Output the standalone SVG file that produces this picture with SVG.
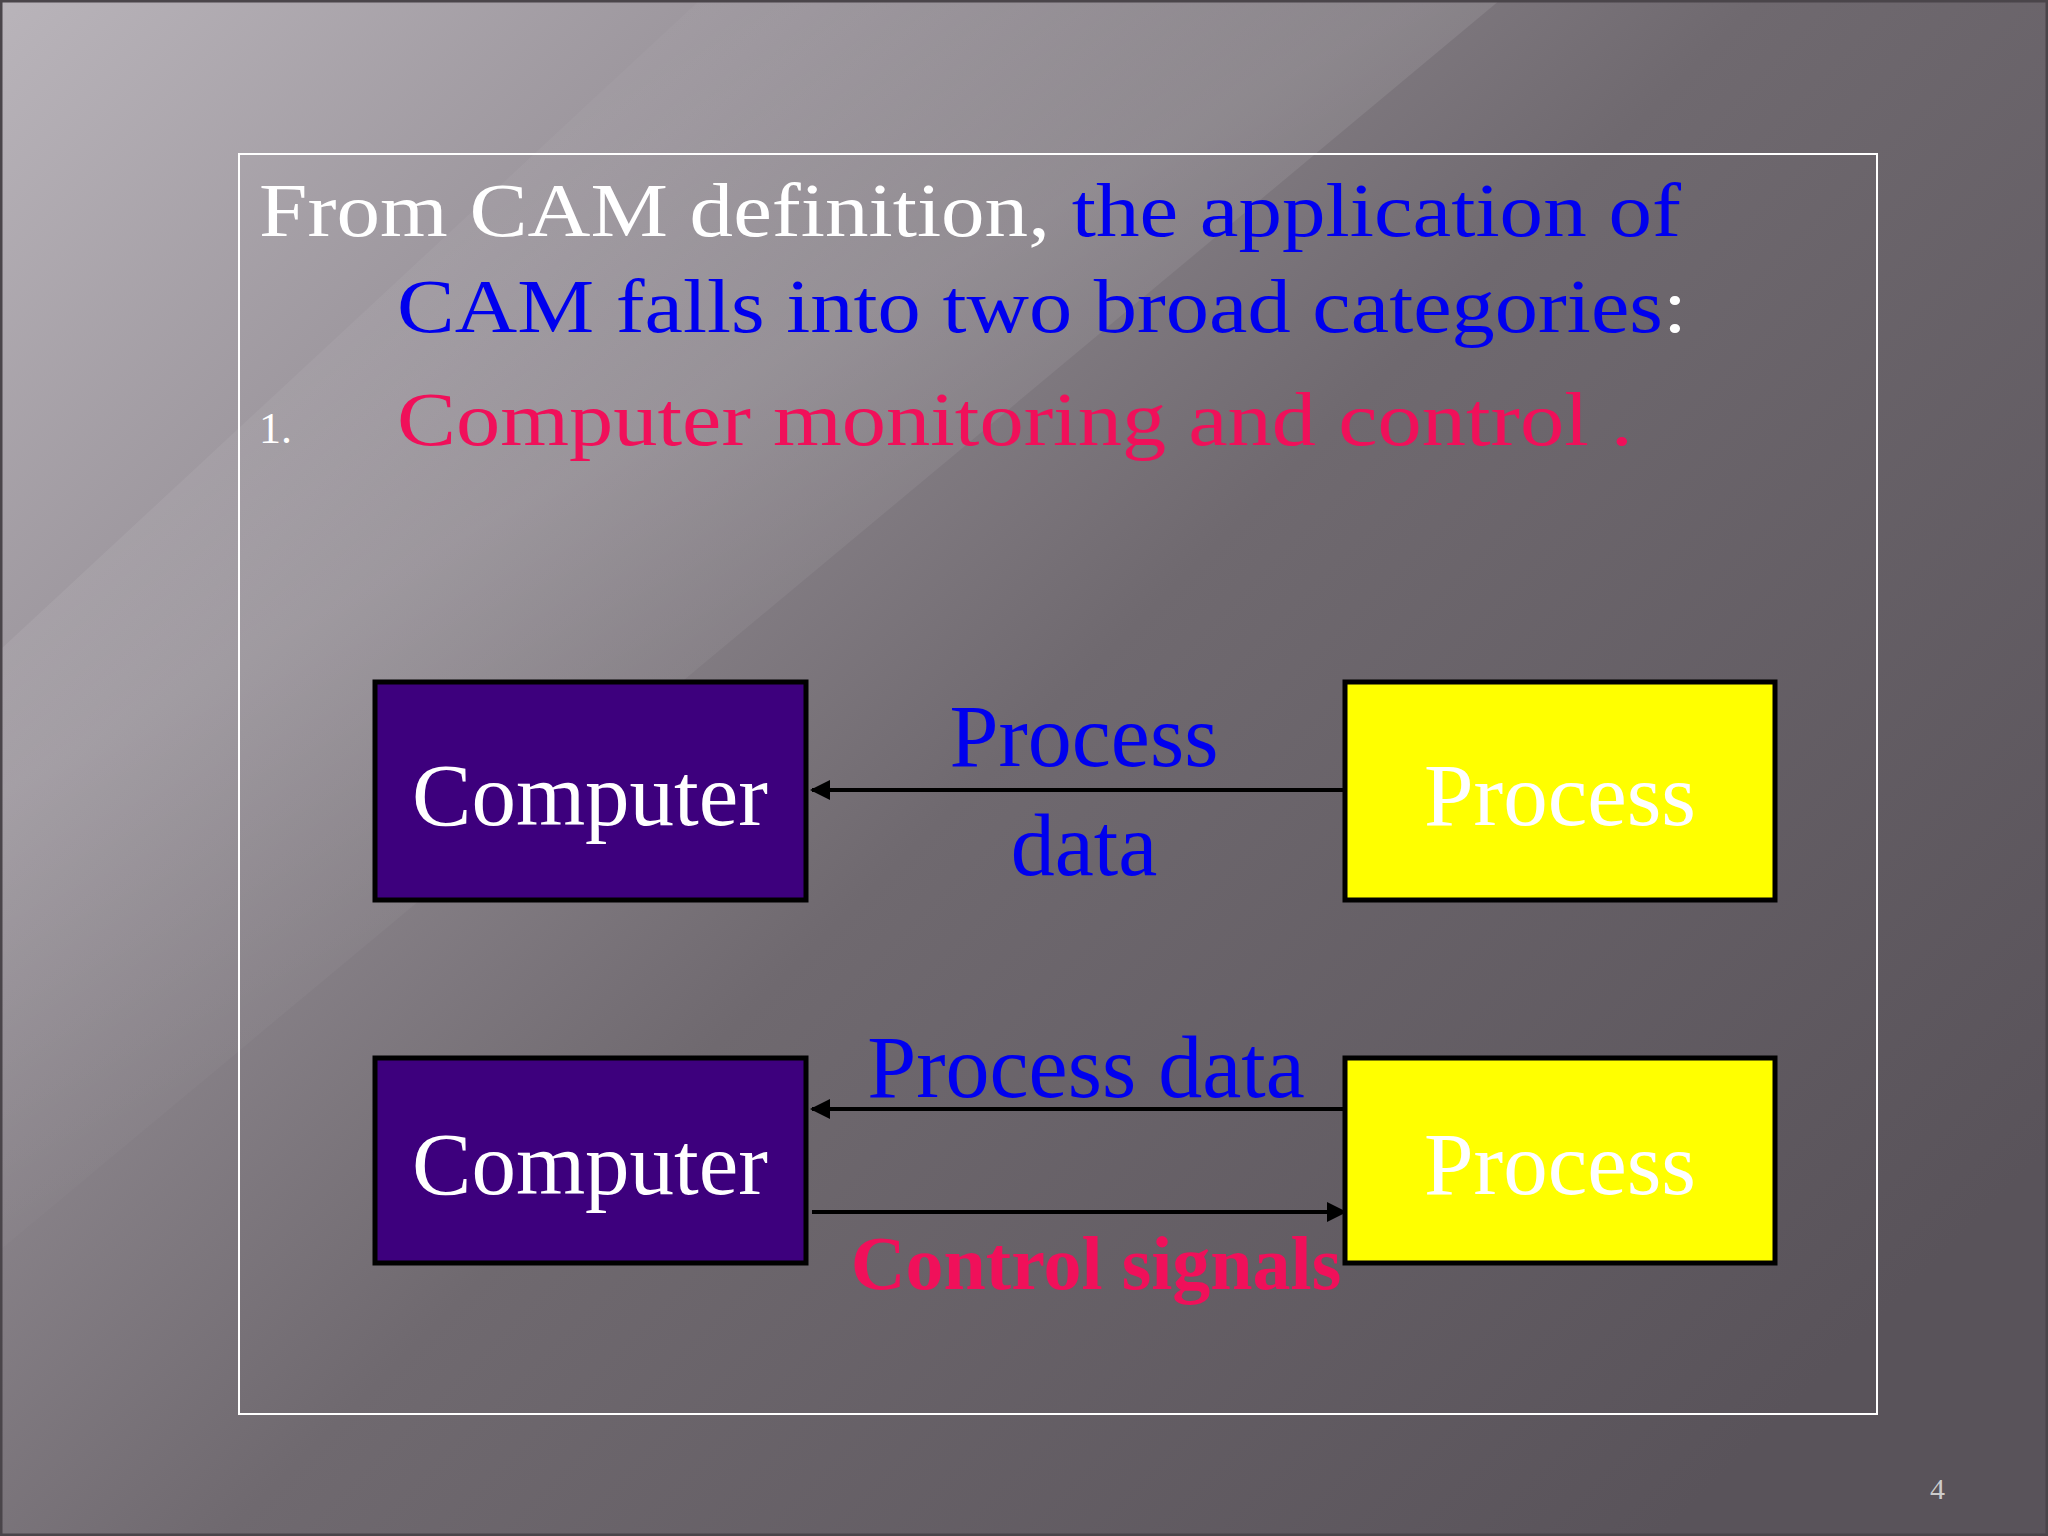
<svg xmlns="http://www.w3.org/2000/svg" width="2048" height="1536" viewBox="0 0 2048 1536">
<defs>
<linearGradient id="bg" x1="0" y1="0" x2="1" y2="0.75">
<stop offset="0" stop-color="#b9b4ba"/><stop offset="0.25" stop-color="#9a949b"/><stop offset="0.55" stop-color="#6f696f"/><stop offset="1" stop-color="#59535a"/>
</linearGradient>
<linearGradient id="streak" x1="0.3" y1="0" x2="0.7" y2="0.6">
<stop offset="0" stop-color="#fff" stop-opacity="0"/><stop offset="0.5" stop-color="#fff" stop-opacity="0.1"/><stop offset="1" stop-color="#fff" stop-opacity="0"/>
</linearGradient>
<marker id="ah" viewBox="0 0 10 10" refX="9" refY="5" markerWidth="5" markerHeight="5" orient="auto"><path d="M0,0L10,5L0,10z" fill="#000"/></marker>
<style>
.t{font-family:"Liberation Serif","DejaVu Serif",serif}
.box{stroke:#000;stroke-width:5}
.cmp{fill:#3d007d}.prc{fill:#ffff00}
.bt{font-size:89px;fill:#fff;text-anchor:middle}
.lbl{font-size:88px;fill:#0000ee;text-anchor:middle}
.ln{stroke:#000;stroke-width:4;fill:none;marker-end:url(#ah)}
</style>
</defs>
<rect width="2048" height="1536" fill="url(#bg)"/>
<polygon points="0,650 700,0 1500,0 0,1250" fill="url(#streak)"/>
<rect x="1" y="1" width="2046" height="1534" fill="none" stroke="#4a454a" stroke-width="3"/>
<rect x="239" y="154" width="1638" height="1260" fill="none" stroke="#fff" stroke-width="2"/>
<text class="t" x="259" y="236" font-size="76" fill="#fff" textLength="1422" lengthAdjust="spacingAndGlyphs">From CAM definition, <tspan fill="#0000ee">the application of</tspan></text>
<text class="t" x="397" y="332" font-size="76" fill="#0000ee" textLength="1290" lengthAdjust="spacingAndGlyphs">CAM falls into two broad categories<tspan fill="#fff">:</tspan></text>
<text class="t" x="259" y="443" font-size="44" fill="#fff">1.</text>
<text class="t" x="397" y="445" font-size="76" fill="#f0105a" textLength="1236" lengthAdjust="spacingAndGlyphs">Computer monitoring and control .</text>
<g id="computer1"><rect class="box cmp" x="375" y="682" width="431" height="218"/><text class="t bt" x="590" y="825">Computer</text></g>
<g id="process1"><rect class="box prc" x="1345" y="682" width="430" height="218"/><text class="t bt" x="1560" y="825">Process</text></g>
<g id="computer2"><rect class="box cmp" x="375" y="1058" width="431" height="205"/><text class="t bt" x="590" y="1194">Computer</text></g>
<g id="process2"><rect class="box prc" x="1345" y="1058" width="430" height="205"/><text class="t bt" x="1560" y="1194">Process</text></g>
<g id="connectors">
<line class="ln" x1="1345" y1="790" x2="812" y2="790"/>
<line class="ln" x1="1345" y1="1109" x2="812" y2="1109"/>
<line class="ln" x1="812" y1="1212" x2="1345" y2="1212"/>
</g>
<text class="t lbl" x="1084" y="766">Process</text>
<text class="t lbl" x="1084" y="875">data</text>
<text class="t lbl" x="1086" y="1097">Process data</text>
<text class="t" x="1096" y="1289" font-size="76" font-weight="bold" fill="#f0105a" text-anchor="middle">Control signals</text>
<text class="t" x="1930" y="1499" font-size="30" fill="#ccc">4</text>
</svg>
